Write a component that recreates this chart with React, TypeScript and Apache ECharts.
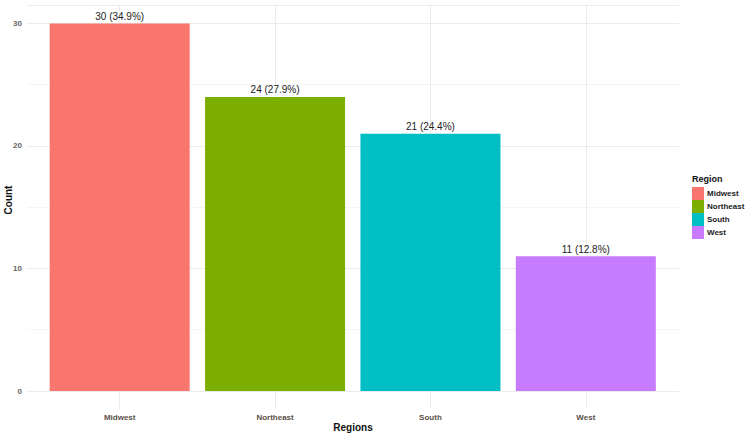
import React, { useEffect, useRef } from "react";
import * as echarts from "echarts";

const categories = ["Midwest", "Northeast", "South", "West"];
const counts = [30, 24, 21, 11];
const percents = ["34.9%", "27.9%", "24.4%", "12.8%"];
const colors = ["#F8766D", "#7CAE00", "#00BFC4", "#C77CFF"];
const yTicks = [0, 10, 20, 30];
const xTitle = "Regions";
const yTitle = "Count";
const legendTitle = "Region";

export default function App() {
  const ref = useRef<HTMLDivElement>(null);
  useEffect(() => {
    if (!ref.current) return;
    const chart = echarts.init(ref.current, undefined, { renderer: "svg" });
    const font = "Liberation Sans, Arial, sans-serif";
    const series: any[] = categories.map((name, i) => ({
      name,
      type: "bar",
      xAxisIndex: 0,
      yAxisIndex: 0,
      stack: "all",
      barWidth: 140,
      itemStyle: { color: colors[i] },
      data: categories.map((_, j) => (j === i ? counts[i] : null)),
      label: {
        show: true,
        position: "top",
        distance: 2,
        fontSize: 10,
        color: "#222",
        fontFamily: font,
        formatter: () => `${counts[i]} (${percents[i]})`,
      },
    }));
    chart.setOption({
      animation: false,
      backgroundColor: "#fff",
      textStyle: { fontFamily: font },
      graphic: [
        {
          type: "text",
          x: 8,
          y: 200,
          rotation: Math.PI / 2,
          style: { text: yTitle, align: "center", verticalAlign: "middle", fontSize: 10, fontWeight: "bold", fill: "#111", fontFamily: font },
        },
        {
          type: "text",
          x: 353,
          y: 427,
          style: { text: xTitle, align: "center", verticalAlign: "middle", fontSize: 10, fontWeight: "bold", fill: "#111", fontFamily: font },
        },
        {
          type: "text",
          x: 692,
          y: 179,
          style: { text: legendTitle, align: "left", verticalAlign: "middle", fontSize: 9, fontWeight: "bold", fill: "#111", fontFamily: font },
        },
      ],
      legend: {
        orient: "vertical",
        left: 692,
        top: 187,
        itemWidth: 12,
        itemHeight: 13,
        itemGap: 0,
        icon: "rect",
        padding: 0,
        data: categories,
        textStyle: { fontSize: 8, fontWeight: "bold", color: "#222", padding: [0, 0, 0, -2] },
      },
      grid: [
        { left: 42, right: 86.5, top: 5, bottom: 44, outerBoundsMode: "none", containLabel: false },
        { left: 27, right: 71, top: 5, bottom: 44, outerBoundsMode: "none", containLabel: false },
        { left: 42, right: 86.5, top: 5, bottom: 26, outerBoundsMode: "none", containLabel: false },
      ],
      xAxis: [
        {
          type: "category",
          gridIndex: 0,
          data: categories,
          axisLine: { show: false },
          axisTick: { show: false },
          axisLabel: { fontSize: 8, fontWeight: "bold", color: "#5a5048", margin: 22 },
          splitLine: { show: false },
        },
        {
          type: "value",
          gridIndex: 1,
          min: 0,
          max: 1,
          show: false,
          splitLine: { show: false },
        },
        {
          type: "category",
          gridIndex: 2,
          data: categories,
          axisLine: { show: false },
          axisTick: { show: true, alignWithLabel: true, inside: true, length: 404, lineStyle: { color: "#ebebeb", width: 1 } },
          axisLabel: { show: false },
          splitLine: { show: false },
        },
      ],
      yAxis: [
        {
          type: "value",
          gridIndex: 0,
          min: 0,
          max: 31.5,
          show: false,
          splitLine: { show: false },
        },
        {
          type: "value",
          gridIndex: 1,
          min: 0,
          max: 31.5,
          interval: 10,
          axisLine: { show: false },
          axisTick: { show: false },
          axisLabel: {
            fontSize: 8,
            fontWeight: "bold",
            color: "#666",
            margin: 5,
            showMaxLabel: false,
            formatter: (v: number) => (yTicks.includes(v) ? String(v) : ""),
          },
          splitLine: { show: true, lineStyle: { color: "#ebebeb", width: 1 } },
          minorTick: { show: false, splitNumber: 2 },
          minorSplitLine: { show: true, lineStyle: { color: "#f3f3f3", width: 0.8 } },
        },
        {
          type: "value",
          gridIndex: 2,
          min: 0,
          max: 1,
          show: false,
          splitLine: { show: false },
        },
      ],
      series,
    });
    return () => chart.dispose();
  }, []);
  return <div ref={ref} style={{ width: 750, height: 435, position: "absolute", left: 0, top: 0 }} />;
}
